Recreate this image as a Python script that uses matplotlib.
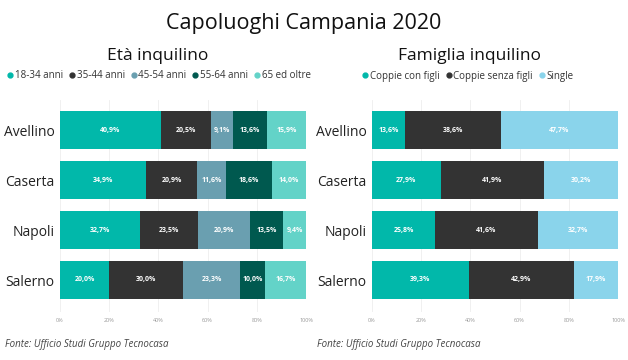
import matplotlib

matplotlib.use("Agg")
import matplotlib.pyplot as plt
import numpy as np
from matplotlib.lines import Line2D

plt.rcParams["font.family"] = ["Open Sans", "DejaVu Sans"]

CITIES = ["Avellino", "Caserta", "Napoli", "Salerno"]

AGE_LABELS = ["18-34 anni", "35-44 anni", "45-54 anni", "55-64 anni", "65 ed oltre"]
AGE_VALUES = [
    [40.9, 34.9, 32.7, 20.0],
    [20.5, 20.9, 23.5, 30.0],
    [9.1, 11.6, 20.9, 23.3],
    [13.6, 18.6, 13.5, 10.0],
    [15.9, 14.0, 9.4, 16.7],
]
AGE_COLORS = ["#01B8AA", "#333333", "#6A9FB0", "#00594F", "#63D3C8"]

FAM_LABELS = ["Coppie con figli", "Coppie senza figli", "Single"]
FAM_VALUES = [
    [13.6, 27.9, 25.8, 39.3],
    [38.6, 41.9, 41.6, 42.9],
    [47.7, 30.2, 32.7, 17.9],
]
FAM_COLORS = ["#01B8AA", "#333333", "#8AD4EB"]

TICKS = [0, 20, 40, 60, 80, 100]


def draw_panel(ax, values, colors):
    y = np.arange(len(CITIES))
    left = np.zeros(len(CITIES))
    totals = np.sum(values, axis=0)
    for vals, colour in zip(values, colors):
        vals = np.array(vals)
        pct = vals / totals * 100
        ax.barh(y, pct, left=left, height=0.76, color=colour, zorder=2)
        for yi, l, w, v in zip(y, left, pct, vals):
            ax.text(l + w / 2, yi, f"{v:.1f}%".replace(".", ","),
                    ha="center", va="center", color="white", fontsize=5,
                    fontweight="bold", zorder=3)
        left += pct
    ax.set_xlim(0, 100)
    ax.set_ylim(3.64, -0.6)
    ax.set_yticks(y)
    ax.set_yticklabels(CITIES, fontsize=10, color="#222222")
    ax.set_xticks(TICKS)
    ax.set_xticklabels([f"{t}%" for t in TICKS], fontsize=4, color="#999999")
    ax.tick_params(length=0, pad=4)
    ax.grid(axis="x", color="#EEEEEE", lw=0.6, zorder=0)
    for s in ax.spines.values():
        s.set_visible(False)


def legend_handles(labels, colors):
    return [
        Line2D([0], [0], marker="o", color="none", mfc=c, mec=c, ms=3.5, label=l)
        for l, c in zip(labels, colors)
    ]


fig = plt.figure(figsize=(6.28, 3.6), dpi=100)
ax1 = fig.add_axes([60 / 628, 1 - 312 / 360, 246 / 628, 212 / 360])
ax2 = fig.add_axes([372 / 628, 1 - 312 / 360, 246 / 628, 212 / 360])
draw_panel(ax1, AGE_VALUES, AGE_COLORS)
draw_panel(ax2, FAM_VALUES, FAM_COLORS)

fig.text(304 / 628, 1 - 23 / 360, "Capoluoghi Campania 2020", ha="center", va="center",
         fontsize=15.5, color="#111111")
fig.text(158 / 628, 1 - 56 / 360, "Età inquilino", ha="center", va="center",
         fontsize=12.5, color="#111111")
fig.text(470 / 628, 1 - 56 / 360, "Famiglia inquilino", ha="center", va="center",
         fontsize=12.5, color="#111111")

for x, labels, colors in [(159, AGE_LABELS, AGE_COLORS), (468, FAM_LABELS, FAM_COLORS)]:
    fig.legend(handles=legend_handles(labels, colors), loc="center",
               bbox_to_anchor=(x / 628, 1 - 76 / 360), ncol=len(labels),
               frameon=False, fontsize=7, handlelength=0.6, handletextpad=0.2,
               columnspacing=0.6, labelcolor="#333333")

for x in (5, 317):
    fig.text(x / 628, 1 - 344 / 360, "Fonte: Ufficio Studi Gruppo Tecnocasa",
             ha="left", va="center", fontsize=7, style="italic", color="#444444")

fig.savefig("out.png", dpi=100)
